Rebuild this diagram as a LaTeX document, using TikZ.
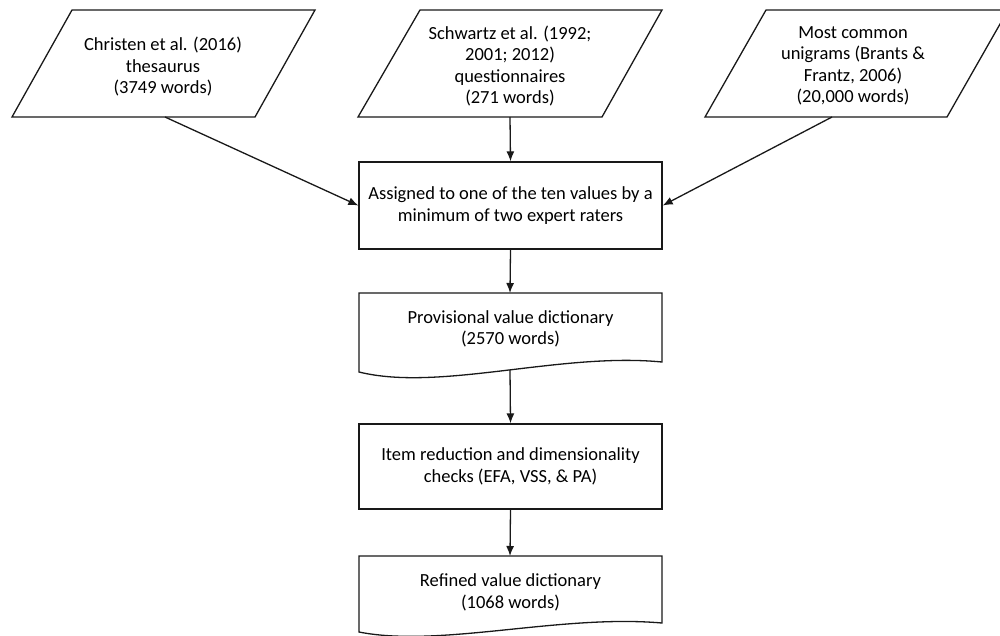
\documentclass[tikz,border=0pt]{standalone}
\usepackage{fontspec}
\setmainfont{Carlito}
\usetikzlibrary{arrows.meta}
\begin{document}
\begin{tikzpicture}[x=1pt,y=-1pt,
  txt/.style={align=center,font=\fontsize{18.5}{21.5}\selectfont,inner sep=0pt},
  shp/.style={draw=black!90,line width=1.3pt,fill=white},
  boxnode/.style={shp,txt,minimum width=303pt},
  arr/.style={draw=black!90,line width=1.3pt,-{Latex[length=10pt,width=8pt]}}]
\clip (0,0) rectangle (1000,635);
\fill[white] (0,0) rectangle (1000,635);
% input parallelograms
\draw[shp] (72,10) -- (315,10) -- (255,117) -- (12,117) -- cycle;
\draw[shp] (420,10) -- (662,10) -- (602,117) -- (358,117) -- cycle;
\draw[shp] (766,10) -- (1008,10) -- (947,117) -- (705,117) -- cycle;
\node[txt] (p1) at (163,67) {Christen et al. (2016)\\thesaurus\\(3749 words)};
\node[txt] (p2) at (510,66) {Schwartz et al. (1992;\\2001; 2012)\\questionnaires\\(271 words)};
\node[txt] (p3) at (853,66) {Most common\\unigrams (Brants \&\\Frantz, 2006)\\(20,000 words)};
\coordinate (p1s) at (165,117);
\coordinate (p2s) at (510,117);
\coordinate (p3s) at (832,117);
% assigned box
\node[boxnode,minimum height=87pt] (a) at (510.5,205.5) {Assigned to one of the ten values by a\\minimum of two expert raters};
% provisional dictionary (document shape)
\draw[shp] (359,293) -- (662,293) -- (662,362) .. controls (560,352) and (440,392) .. (359,372) -- cycle;
\node[txt] (b) at (510.5,329) {Provisional value dictionary\\(2570 words)};
\coordinate (bt) at (510,293);
\coordinate (bs) at (510,370);
% item reduction
\node[boxnode,minimum height=85pt] (c) at (510.5,466.5) {Item reduction and dimensionality\\checks (EFA, VSS, \& PA)};
% refined dictionary
\draw[shp] (359,556) -- (662,556) -- (662,623) .. controls (560,614) and (440,648) .. (359,632) -- cycle;
\node[txt] (d) at (510.5,592.5) {Refined value dictionary\\(1068 words)};
\coordinate (dt) at (510,556);
% connectors
\draw[arr] (p1s) -- (a.west);
\draw[arr] (p2s) -- (a.north);
\draw[arr] (p3s) -- (a.east);
\draw[arr] (a.south) -- (bt);
\draw[arr] (bs) -- (c.north);
\draw[arr] (c.south) -- (dt);
\end{tikzpicture}
\end{document}
